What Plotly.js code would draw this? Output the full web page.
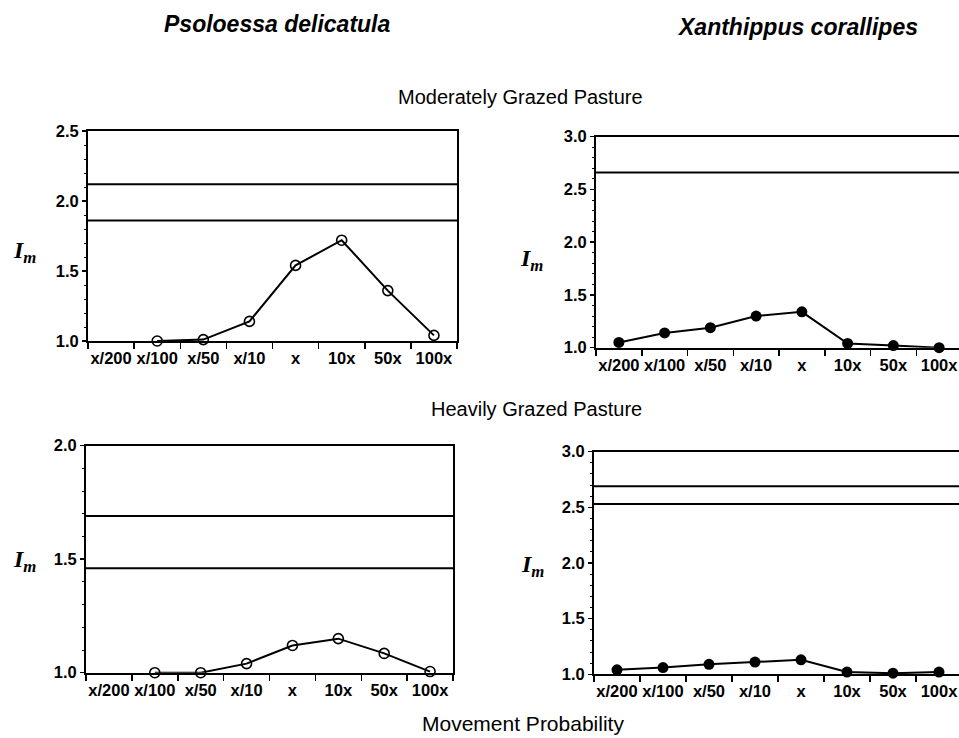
<!DOCTYPE html>
<html>
<head>
<meta charset="utf-8">
<script src="https://cdn.plot.ly/plotly-3.0.1.min.js"></script>
<style>
html, body { margin: 0; padding: 0; overflow: hidden; background: #fff; }
#chart { width: 964px; height: 738px; }
</style>
</head>
<body>
<div id="chart"></div>
<script>
// ---- data ----
const categories = ["x/200", "x/100", "x/50", "x/10", "x", "10x", "50x", "100x"];
const psoloessaModerate = [null, 1.00, 1.01, 1.14, 1.54, 1.72, 1.36, 1.04];
const xanthippusModerate = [1.05, 1.14, 1.19, 1.30, 1.34, 1.04, 1.02, 1.00];
const psoloessaHeavy = [null, 1.00, 1.00, 1.04, 1.12, 1.15, 1.085, 1.005];
const xanthippusHeavy = [1.04, 1.06, 1.09, 1.11, 1.13, 1.02, 1.01, 1.02];
const psoloessaModerateLines = [2.12, 1.86];
const xanthippusModerateLines = [2.66];
const psoloessaHeavyLines = [1.69, 1.46];
const xanthippusHeavyLines = [2.69, 2.53];
const yRanges = [[1, 2.5], [1, 3], [1, 2], [1, 3]];
const speciesTitles = ["Psoloessa delicatula", "Xanthippus corallipes"];
const pastureTitles = ["Moderately Grazed Pasture", "Heavily Grazed Pasture"];
const xTitle = "Movement Probability";

// ---- layout helpers ----
const W = 964, H = 738;
const px = v => v / W;
const py = v => 1 - v / H;

const panels = [
  {vals: psoloessaModerate, lines: psoloessaModerateLines, open: true,  x: [88, 457], y: [341, 131]},
  {vals: xanthippusModerate, lines: xanthippusModerateLines, open: false, x: [596, 962], y: [347.7, 136.7]},
  {vals: psoloessaHeavy, lines: psoloessaHeavyLines, open: true,  x: [86, 453], y: [672.7, 445.7]},
  {vals: xanthippusHeavy, lines: xanthippusHeavyLines, open: false, x: [594, 962], y: [674.3, 451.7]}
];

const tickFont = {family: "Liberation Sans, Arial, sans-serif", size: 16.5, color: "#000", weight: 700};
const traces = [];
const layout = {
  width: W, height: H,
  margin: {l: 0, r: 0, t: 0, b: 0},
  paper_bgcolor: "#fff", plot_bgcolor: "#fff",
  showlegend: false,
  font: {family: "Liberation Sans, Arial, sans-serif", color: "#000"},
  shapes: [], annotations: []
};

panels.forEach((p, i) => {
  const n = i + 1;
  const xa = n === 1 ? "x" : "x" + n;
  const ya = n === 1 ? "y" : "y" + n;
  traces.push({
    type: "scatter", mode: "lines+markers",
    x: categories, y: p.vals,
    xaxis: xa, yaxis: ya,
    cliponaxis: false,
    line: {color: "#000", width: 2},
    marker: p.open
      ? {symbol: "circle-open", size: 10, color: "#000", line: {width: 1.6, color: "#000"}}
      : {symbol: "circle", size: 11, color: "#000"},
    hoverinfo: "skip"
  });
  layout["xaxis" + (n === 1 ? "" : n)] = {
    domain: [px(p.x[0]), px(p.x[1])],
    anchor: ya,
    type: "category", categoryorder: "array", categoryarray: categories,
    range: [-0.5, 7.5],
    tickangle: 0, ticklabelstandoff: 1,
    tickson: "boundaries", ticks: "outside", ticklen: 6, tickwidth: 1.5, tickcolor: "#000",
    showline: true, mirror: true, linewidth: 2, linecolor: "#000",
    showgrid: false, zeroline: false, fixedrange: true,
    tickfont: tickFont
  };
  layout["yaxis" + (n === 1 ? "" : n)] = {
    domain: [py(p.y[0]), py(p.y[1])],
    anchor: xa,
    range: yRanges[i], tick0: 1, dtick: 0.5, tickformat: ".1f",
    ticks: "outside", ticklen: 4, tickwidth: 1.5, tickcolor: "#000",
    minor: {dtick: 0.1, ticks: "outside", ticklen: 2, tickwidth: 1, tickcolor: "#000"},
    showline: true, mirror: true, linewidth: 2, linecolor: "#000",
    showgrid: false, zeroline: false, fixedrange: true,
    tickfont: tickFont
  };
  p.lines.forEach(v => {
    layout.shapes.push({
      type: "line", xref: xa + " domain", yref: ya,
      x0: 0, x1: 1, y0: v, y1: v,
      line: {color: "#000", width: 2}
    });
  });
});

// y-axis labels I_m (horizontal)
const imPos = [[24, 252], [531, 260], [24, 561], [532, 566]];
imPos.forEach(q => {
  layout.annotations.push({
    xref: "paper", yref: "paper", x: px(q[0]), y: py(q[1]),
    xanchor: "center", yanchor: "middle", showarrow: false,
    text: "<b><i>I</i></b><sub><b><i>m</i></b></sub>",
    font: {family: "Liberation Serif, Times New Roman, serif", size: 24, color: "#000"}
  });
});

const titleItalic = {family: "Liberation Sans, Arial, sans-serif", size: 23, color: "#000", weight: 700, style: "italic"};
const titleRegular = {family: "Liberation Sans, Arial, sans-serif", size: 20, color: "#000"};
layout.annotations.push(
  {xref: "paper", yref: "paper", x: px(277), y: py(24), xanchor: "center", yanchor: "middle", showarrow: false,
   text: speciesTitles[0], font: titleItalic},
  {xref: "paper", yref: "paper", x: px(797), y: py(27), xanchor: "center", yanchor: "middle", showarrow: false,
   text: speciesTitles[1], font: titleItalic},
  {xref: "paper", yref: "paper", x: px(520), y: py(97), xanchor: "center", yanchor: "middle", showarrow: false,
   text: pastureTitles[0], font: titleRegular},
  {xref: "paper", yref: "paper", x: px(536), y: py(409), xanchor: "center", yanchor: "middle", showarrow: false,
   text: pastureTitles[1], font: titleRegular},
  {xref: "paper", yref: "paper", x: px(523), y: py(723), xanchor: "center", yanchor: "middle", showarrow: false,
   text: xTitle, font: {family: "Liberation Sans, Arial, sans-serif", size: 21, color: "#000"}}
);

Plotly.newPlot("chart", traces, layout, {displayModeBar: false, staticPlot: true});
</script>
</body>
</html>
